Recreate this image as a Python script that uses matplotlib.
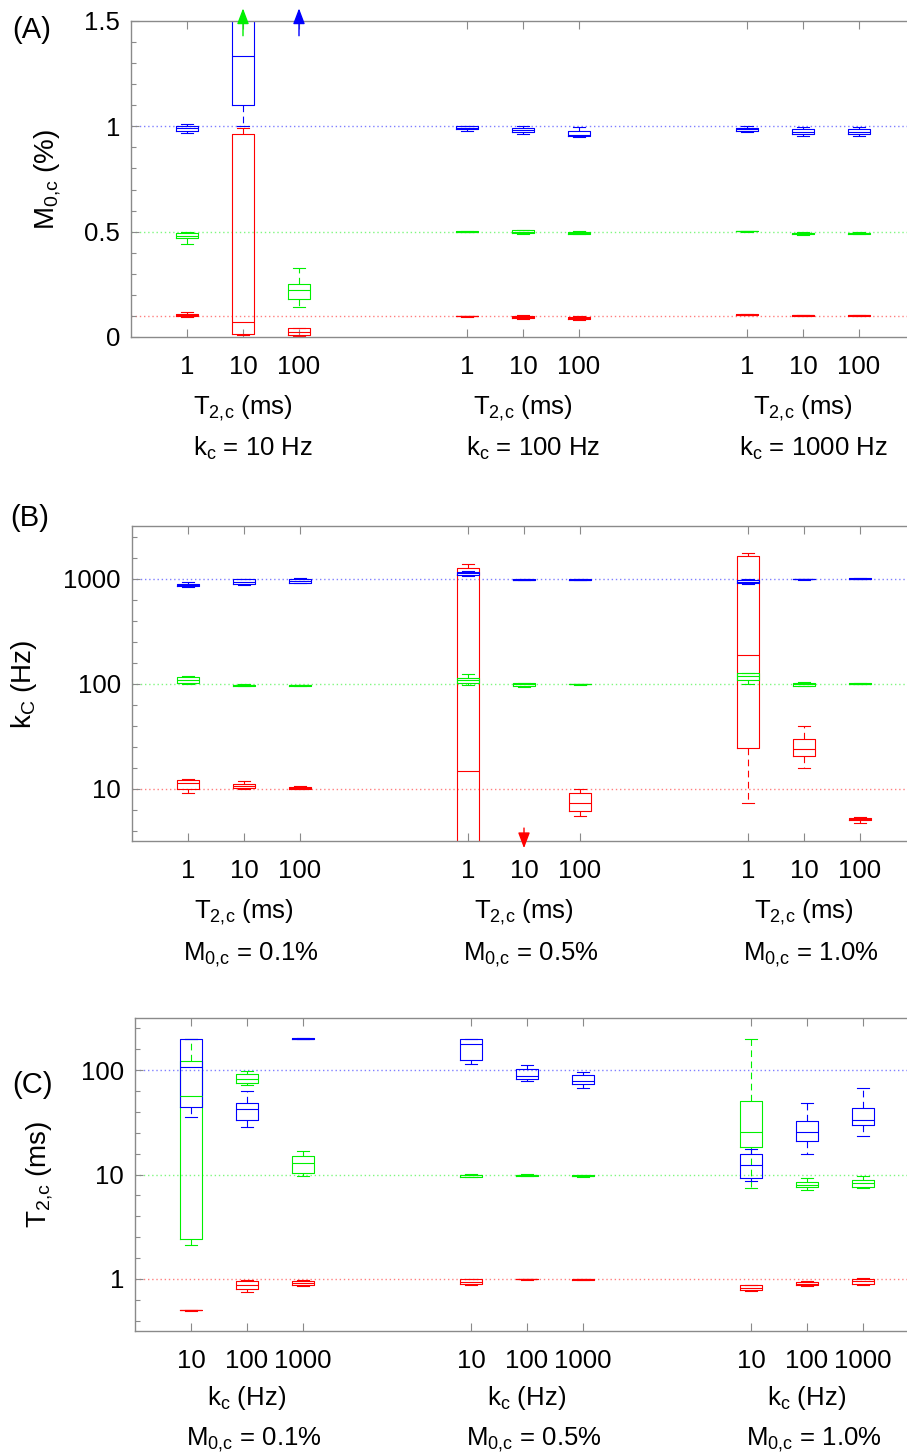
import matplotlib
matplotlib.use("Agg")
import matplotlib.pyplot as plt
import matplotlib.transforms as mtransforms
from matplotlib.ticker import MultipleLocator, LogLocator, NullFormatter, FixedLocator
import numpy as np

plt.rcParams['font.family'] = ['Liberation Sans', 'DejaVu Sans']
plt.rcParams['mathtext.fontset'] = 'custom'
plt.rcParams['mathtext.rm'] = 'Liberation Sans'

# ---------------- data ----------------
positions = [1, 2, 3, 6, 7, 8, 11, 12, 13]
# each entry: (whisker low, q1, median, q3, whisker high) ; None = off scale (arrow)

# Panel A: M0,c (%)
A_blue = [(0.97, 0.98, 0.99, 1.0, 1.01), (1.0, 1.10, 1.335, 1.6, 1.7), None,
          (0.98, 0.985, 0.993, 1.0, 1.003), (0.962, 0.972, 0.982, 0.993, 1.0), (0.95, 0.955, 0.958, 0.979, 0.997),
          (0.975, 0.978, 0.985, 0.99, 1.0), (0.953, 0.962, 0.975, 0.986, 0.997), (0.955, 0.962, 0.975, 0.986, 0.997)]
A_green = [(0.44, 0.47, 0.48, 0.492, 0.50), None, (0.142, 0.179, 0.222, 0.25, 0.327),
           (0.497, 0.498, 0.50, 0.502, 0.503), (0.49, 0.492, 0.50, 0.508, 0.51), (0.487, 0.49, 0.495, 0.50, 0.502),
           (0.50, 0.501, 0.502, 0.503, 0.504), (0.485, 0.487, 0.492, 0.496, 0.498), (0.487, 0.489, 0.493, 0.496, 0.498)]
A_red = [(0.095, 0.10, 0.105, 0.11, 0.117), (0.01, 0.014, 0.073, 0.963, 0.993), (0.005, 0.01, 0.024, 0.041, 0.045),
         (0.097, 0.098, 0.099, 0.101, 0.102), (0.085, 0.09, 0.095, 0.10, 0.104), (0.083, 0.085, 0.09, 0.096, 0.098),
         (0.103, 0.104, 0.105, 0.107, 0.108), (0.101, 0.102, 0.103, 0.104, 0.105), (0.101, 0.102, 0.103, 0.104, 0.105)]
A_ref = [1.0, 0.5, 0.1]
A_arrows = [(2, 'green', 1.43, 1.56), (3, 'blue', 1.43, 1.56)]

# Panel B: kc (Hz)
B_blue = [(828, 840, 860, 895, 925), (875, 885, 935, 985, 1000), (910, 915, 955, 998, 1005),
          (1060, 1080, 1120, 1160, 1180), (965, 972, 978, 985, 990), (965, 970, 978, 985, 990),
          (890, 902, 925, 972, 1000), (975, 980, 985, 990, 995), (995, 998, 1000, 1002, 1005)]
B_green = [(100, 101.4, 109, 115.6, 119), (95, 95.5, 96.5, 97.7, 98), (95, 95.5, 96, 97, 97.5),
           (96, 101.4, 107, 112, 123), (93, 94, 98, 101, 102), (97.5, 98, 98.5, 99, 99.5),
           (100, 108, 117, 125, 127), (95, 95.5, 98, 102, 104), (99.5, 99.8, 100, 100.2, 100.5)]
B_red = [(9.0, 10.0, 11.2, 12.0, 12.2), (10.0, 10.05, 10.5, 11.0, 11.8), (9.95, 10.0, 10.2, 10.4, 10.45),
         (1.0, 1.5, 14.7, 1263, 1378), None, (5.5, 6.1, 7.3, 9.0, 10.0),
         (7.25, 24.3, 187, 1652, 1740), (15.7, 20.5, 23.9, 29.8, 39.3), (4.7, 4.96, 5.1, 5.26, 5.35)]
B_ref = [1000, 100, 10]
B_arrows = [(7, 'red', 4.2, 2.7)]

# Panel C: T2,c (ms)
C_blue = [(35.4, 44.5, 107.6, 201, 201), (28.4, 33.4, 42.6, 48, 62.5), (200, 200.5, 201, 201.5, 202),
          (115, 125, 180, 201, 201), (78.5, 81.5, 88, 102, 112.5), (67.2, 74.5, 78.5, 90, 95.7),
          (8.75, 9.27, 12.3, 15.6, 17.5), (15.8, 20.8, 25.8, 32.4, 48.6), (23.3, 29.7, 33.4, 43.5, 67.7)]
C_green = [(2.1, 2.43, 56, 122.7, 201), (71.3, 75.6, 83, 91, 98), (9.6, 10.4, 12.9, 15, 16.7),
           (9.4, 9.5, 9.8, 10.0, 10.1), (9.6, 9.7, 9.85, 10.0, 10.1), (9.5, 9.6, 9.7, 9.85, 9.9),
           (7.35, 18.3, 25.8, 50.5, 200), (7.08, 7.55, 8.0, 8.5, 9.27), (7.35, 7.6, 8.3, 8.95, 9.6)]
C_red = [(0.497, 0.498, 0.5, 0.502, 0.503), (0.745, 0.807, 0.88, 0.944, 0.97), (0.86, 0.865, 0.91, 0.957, 0.98),
         (0.88, 0.895, 0.94, 0.986, 0.99), (0.985, 0.99, 0.995, 1.0, 1.005), (0.98, 0.985, 0.99, 0.995, 1.0),
         (0.76, 0.785, 0.82, 0.865, 0.88), (0.85, 0.865, 0.9, 0.94, 0.96), (0.88, 0.9, 0.95, 1.0, 1.01)]
C_ref = [100, 10, 1]

T_ticklabels = ['1', '10', '100'] * 3
k_ticklabels = ['10', '100', '1000'] * 3
group_centers = [2, 7, 12]
A_groups = [r'$\mathregular{k_c}$ = 10 Hz', r'$\mathregular{k_c}$ = 100 Hz', r'$\mathregular{k_c}$ = 1000 Hz']
M_groups = [r'$\mathregular{M_{0{,}c}}$ = 0.1%', r'$\mathregular{M_{0{,}c}}$ = 0.5%', r'$\mathregular{M_{0{,}c}}$ = 1.0%']
T_xlabel = r'$\mathregular{T_{2{,}c}}$ (ms)'
k_xlabel = r'$\mathregular{k_c}$ (Hz)'

# ---------------- drawing ----------------
W, H = 907, 1454
fig = plt.figure(figsize=(W / 100, H / 100), dpi=100)
COL = {'blue': '#0000ff', 'green': '#00f000', 'red': '#ff0000'}
SPINE = '#8a8a8a'


def make_axes(left, top, bottom, unit=56.0, span=14):
    right = left + unit * span
    return fig.add_axes([left / W, 1 - bottom / H, (right - left) / W, (bottom - top) / H])


def draw_series(ax, series, color):
    stats, pos = [], []
    for p, s in zip(positions, series):
        if s is None:
            continue
        wlo, q1, med, q3, whi = s
        stats.append(dict(whislo=wlo, q1=q1, med=med, q3=q3, whishi=whi, fliers=[]))
        pos.append(p)
    c = COL[color]
    ax.bxp(stats, positions=pos, widths=0.4, capwidths=0.2, showfliers=False, manage_ticks=False,
           boxprops=dict(color=c, lw=0.8), medianprops=dict(color=c, lw=0.8),
           whiskerprops=dict(color=c, lw=0.8, linestyle=(0, (6, 4))),
           capprops=dict(color=c, lw=0.8))


def style_axes(ax, ticklabels):
    ax.set_xlim(0, 14)
    ax.set_xticks(positions)
    ax.set_xticklabels(ticklabels)
    for sp in ax.spines.values():
        sp.set_color(SPINE)
        sp.set_linewidth(1.0)
    ax.tick_params(which='both', direction='in', top=True, right=True, color=SPINE, width=0.8,
                   labelcolor='black', labelsize=18.5)
    ax.tick_params(which='major', length=5.8)
    ax.tick_params(which='minor', length=3.8)
    ax.tick_params(axis='x', pad=13)
    ax.tick_params(axis='y', pad=8)


def ref_lines(ax, refs):
    for v, c in zip(refs, ['blue', 'green', 'red']):
        ax.axhline(v, color=COL[c], lw=1.0, ls=(0, (1, 2)), alpha=0.5, zorder=0)


def arrows(ax, arr):
    for x, c, y0, y1 in arr:
        ax.annotate('', xy=(x, y1), xytext=(x, y0), annotation_clip=False,
                    arrowprops=dict(arrowstyle='-|>,head_length=0.95,head_width=0.36', color=COL[c],
                                    lw=1.0, mutation_scale=10, shrinkA=0, shrinkB=0))


def fig_text(ax, x, ypx, s, **kw):
    tr = mtransforms.blended_transform_factory(ax.transData, fig.transFigure)
    ax.text(x, 1 - ypx / H, s, transform=tr, ha='center', va='baseline', **kw)


# Panel A
axA = make_axes(131, 21, 337)
ref_lines(axA, A_ref)
for s, c in [(A_red, 'red'), (A_green, 'green'), (A_blue, 'blue')]:
    draw_series(axA, s, c)
arrows(axA, A_arrows)
style_axes(axA, T_ticklabels)
axA.set_ylim(0, 1.5)
axA.set_yticks([0, 0.5, 1, 1.5])
axA.set_yticklabels(['0', '0.5', '1', '1.5'])
axA.yaxis.set_minor_locator(MultipleLocator(0.1))
for g, lab in zip(group_centers, A_groups):
    fig_text(axA, g, 414, T_xlabel, fontsize=18.5)
    fig_text(axA, g + 0.18, 456, lab, fontsize=18.5)

# Panel B
axB = make_axes(132, 526, 841)
axB.set_yscale('log')
ref_lines(axB, B_ref)
for s, c in [(B_red, 'red'), (B_green, 'green'), (B_blue, 'blue')]:
    draw_series(axB, s, c)
arrows(axB, B_arrows)
style_axes(axB, T_ticklabels)
axB.set_ylim(10 ** 0.5, 10 ** 3.5)
axB.yaxis.set_major_locator(FixedLocator([10, 100, 1000]))
axB.set_yticklabels(['10', '100', '1000'])
axB.yaxis.set_minor_locator(LogLocator(base=10, subs=10 ** np.array([0.2, 0.4, 0.6, 0.8]), numticks=50))
axB.yaxis.set_minor_formatter(NullFormatter())
for g, lab in zip(group_centers, M_groups):
    fig_text(axB, g, 918, T_xlabel, fontsize=18.5)
    fig_text(axB, g + 0.13, 960, lab, fontsize=18.5)

# Panel C
axC = make_axes(135, 1018, 1331)
axC.set_yscale('log')
ref_lines(axC, C_ref)
for s, c in [(C_red, 'red'), (C_green, 'green'), (C_blue, 'blue')]:
    draw_series(axC, s, c)
style_axes(axC, k_ticklabels)
axC.set_ylim(10 ** -0.5, 10 ** 2.5)
axC.yaxis.set_major_locator(FixedLocator([1, 10, 100]))
axC.set_yticklabels(['1', '10', '100'])
axC.yaxis.set_minor_locator(LogLocator(base=10, subs=10 ** np.array([0.2, 0.4, 0.6, 0.8]), numticks=50))
axC.yaxis.set_minor_formatter(NullFormatter())
for g, lab in zip(group_centers, M_groups):
    fig_text(axC, g, 1405, k_xlabel, fontsize=18.5)
    fig_text(axC, g + 0.13, 1445, lab, fontsize=18.5)

# y labels and panel letters
fig.text(48 / W, 1 - 179 / H, r'$\mathregular{M_{0{,}c}}$ (%)', rotation=90, ha='center', va='center', fontsize=20)
fig.text(24 / W, 1 - 684 / H, r'$\mathregular{k_C}$ (Hz)', rotation=90, ha='center', va='center', fontsize=20)
fig.text(40 / W, 1 - 1174 / H, T_xlabel, rotation=90, ha='center', va='center', fontsize=20)
fig.text(32 / W, 1 - 30 / H, '(A)', ha='center', va='center', fontsize=21)
fig.text(30 / W, 1 - 518 / H, '(B)', ha='center', va='center', fontsize=21)
fig.text(32 / W, 1 - 1085 / H, '(C)', ha='center', va='center', fontsize=21)

fig.savefig('out.png', dpi=100)
